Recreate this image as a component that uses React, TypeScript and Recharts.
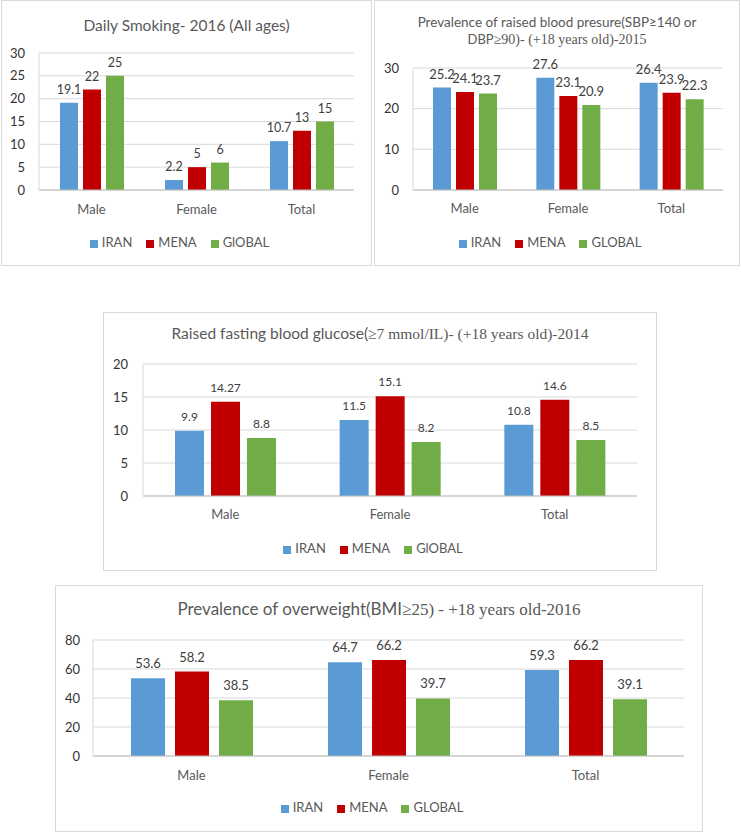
import React from "react";
import { Bar, BarChart, CartesianGrid, LabelList, Legend, XAxis, YAxis } from "recharts";

const categories = ["Male", "Female", "Total"];

const smokingIran = [19.1, 2.2, 10.7];
const smokingMena = [22, 5, 13];
const smokingGlobal = [25, 6, 15];
const smokingTicks = [0, 5, 10, 15, 20, 25, 30];

const bpIran = [25.2, 27.6, 26.4];
const bpMena = [24.1, 23.1, 23.9];
const bpGlobal = [23.7, 20.9, 22.3];
const bpTicks = [0, 10, 20, 30];

const glucoseIran = [9.9, 11.5, 10.8];
const glucoseMena = [14.27, 15.1, 14.6];
const glucoseGlobal = [8.8, 8.2, 8.5];
const glucoseTicks = [0, 5, 10, 15, 20];

const bmiIran = [53.6, 64.7, 59.3];
const bmiMena = [58.2, 66.2, 66.2];
const bmiGlobal = [38.5, 39.7, 39.1];
const bmiTicks = [0, 20, 40, 60, 80];

const SANS = "Lato, 'Noto Sans', sans-serif";
const SERIF = "'Liberation Serif', 'DejaVu Serif', serif";
const COLORS = { iran: "#5B9BD5", mena: "#C00000", global: "#70AD47" };
const KEYS: ("iran" | "mena" | "global")[] = ["iran", "mena", "global"];

function rows(iran: number[], mena: number[], global: number[]) {
  return categories.map((category, i) => ({ category, iran: iran[i], mena: mena[i], global: global[i] }));
}

interface Box { left: number; top: number; width: number; height: number }
interface Plot { left: number; top: number; right: number; bottom: number }

interface PanelProps {
  box: Box;
  plot: Plot;
  title: React.ReactNode;
  titleTop: number;
  titleSize: number;
  titleLine: number;
  data: ReturnType<typeof rows>;
  ticks: number[];
  names: string[];
  barSize: number;
  barGap: number;
  labelSize: number;
  labelOffset: number;
  tickFont: number;
  yLabelRight: number;
  catMargin: number;
  legendY: number;
}

function Panel(p: PanelProps) {
  const chartLeft = p.box.left + 1;
  const chartTop = p.box.top + 1;
  const w = p.box.width - 2;
  const h = p.box.height - 2;
  const yW = 30;
  const xH = 30;
  const margin = {
    left: p.plot.left - chartLeft - yW,
    top: p.plot.top - chartTop,
    right: chartLeft + w - p.plot.right,
    bottom: chartTop + h - p.plot.bottom - xH,
  };
  return (
    <div
      style={{
        position: "absolute",
        left: p.box.left,
        top: p.box.top,
        width: p.box.width,
        height: p.box.height,
        boxSizing: "border-box",
        border: "1px solid #d9d9d9",
        background: "#fff",
      }}
    >
      <div
        style={{
          position: "absolute",
          left: 0,
          width: w,
          top: p.titleTop - chartTop,
          textAlign: "center",
          fontFamily: SANS,
          fontSize: p.titleSize,
          lineHeight: `${p.titleLine}px`,
          color: "#595959",
          whiteSpace: "nowrap",
          zIndex: 2,
        }}
      >
        {p.title}
      </div>
      <div style={{ position: "absolute", left: 0, top: 0 }}>
        <BarChart width={w} height={h} data={p.data} margin={margin} barGap={p.barGap}>
          <CartesianGrid vertical={false} stroke="#d9d9d9" />
          <XAxis
            dataKey="category"
            height={xH}
            interval={0}
            tickLine={false}
            tickSize={0}
            tickMargin={p.catMargin}
            axisLine={{ stroke: "#bfbfbf" }}
            tick={{ fill: "#595959", fontSize: p.tickFont, fontFamily: SANS }}
          />
          <YAxis
            width={yW}
            domain={[0, p.ticks[p.ticks.length - 1]]}
            ticks={p.ticks}
            interval={0}
            tickLine={false}
            tickSize={0}
            tickMargin={p.plot.left - p.yLabelRight}
            axisLine={{ stroke: "#d9d9d9" }}
            tick={{ fill: "#333", fontSize: p.tickFont, fontFamily: SANS }}
          />
          <Legend
            verticalAlign="middle"
            align="center"
            layout="horizontal"
            iconType="square"
            iconSize={8}
            itemSorter={(item: any) => KEYS.indexOf(item.dataKey)}
            wrapperStyle={{
              top: p.legendY - chartTop - 10,
              left: 0,
              width: w,
              height: 20,
              lineHeight: "20px",
              fontFamily: SANS,
              fontSize: 13,
            }}
            formatter={(value: string) => (
              <span style={{ color: "#595959", marginRight: 4 }}>{value}</span>
            )}
          />
          {KEYS.map((k, i) => (
            <Bar key={k} dataKey={k} name={p.names[i]} fill={COLORS[k]} barSize={p.barSize} isAnimationActive={false}>
              <LabelList
                dataKey={k}
                position="top"
                offset={p.labelOffset}
                fill="#404040"
                fontSize={p.labelSize}
                fontFamily={SANS}
              />
            </Bar>
          ))}
        </BarChart>
      </div>
    </div>
  );
}

export default function App() {
  return (
    <div style={{ position: "absolute", left: 0, top: 0, width: 741, height: 832, background: "#fff", overflow: "hidden" }}>
      <Panel
        box={{ left: 1, top: 0, width: 371, height: 266 }}
        plot={{ left: 39, top: 53, right: 354, bottom: 190 }}
        title={<span>Daily Smoking- 2016 (All ages)</span>}
        titleTop={15}
        titleSize={15.5}
        titleLine={20}
        data={rows(smokingIran, smokingMena, smokingGlobal)}
        ticks={smokingTicks}
        names={["IRAN", "MENA", "GlOBAL"]}
        barSize={18}
        barGap={5}
        labelSize={12.5}
        labelOffset={9}
        tickFont={13}
        yLabelRight={25}
        catMargin={15}
        legendY={242}
      />
      <Panel
        box={{ left: 374, top: 0, width: 366, height: 266 }}
        plot={{ left: 413, top: 68, right: 723, bottom: 190 }}
        title={
          <>
            <div style={{ fontSize: 13.5 }}>Prevalence of raised blood presure(SBP≥140 or</div>
            <div>
              <span style={{ fontSize: 13 }}>DBP</span>
              <span style={{ fontFamily: SERIF, fontSize: 14 }}>≥90)- (+18 years old)-2015</span>
            </div>
          </>
        }
        titleTop={14}
        titleSize={13}
        titleLine={17}
        data={rows(bpIran, bpMena, bpGlobal)}
        ticks={bpTicks}
        names={["IRAN", "MENA", "GLOBAL"]}
        barSize={18}
        barGap={5}
        labelSize={13}
        labelOffset={9}
        tickFont={13}
        yLabelRight={399}
        catMargin={14}
        legendY={242}
      />
      <Panel
        box={{ left: 103, top: 312, width: 554, height: 259 }}
        plot={{ left: 143, top: 364, right: 637, bottom: 496 }}
        title={
          <>
            <span>Raised fasting blood glucose(</span>
            <span style={{ fontFamily: SERIF }}>≥7 mmol/IL)- (+18 years old)-2014</span>
          </>
        }
        titleTop={323}
        titleSize={15.5}
        titleLine={20}
        data={rows(glucoseIran, glucoseMena, glucoseGlobal)}
        ticks={glucoseTicks}
        names={["IRAN", "MENA", "GlOBAL"]}
        barSize={29}
        barGap={7}
        labelSize={12}
        labelOffset={10}
        tickFont={13}
        yLabelRight={128}
        catMargin={14}
        legendY={548}
      />
      <Panel
        box={{ left: 55, top: 585, width: 648, height: 247 }}
        plot={{ left: 93, top: 640, right: 684, bottom: 756 }}
        title={
          <>
            <span>Prevalence of overweight(BMI</span>
            <span style={{ fontFamily: SERIF }}>≥25) - +18 years old-2016</span>
          </>
        }
        titleTop={599}
        titleSize={17}
        titleLine={20}
        data={rows(bmiIran, bmiMena, bmiGlobal)}
        ticks={bmiTicks}
        names={["IRAN", "MENA", "GLOBAL"]}
        barSize={34}
        barGap={10}
        labelSize={13}
        labelOffset={10}
        tickFont={13}
        yLabelRight={80}
        catMargin={15}
        legendY={807}
      />
    </div>
  );
}
